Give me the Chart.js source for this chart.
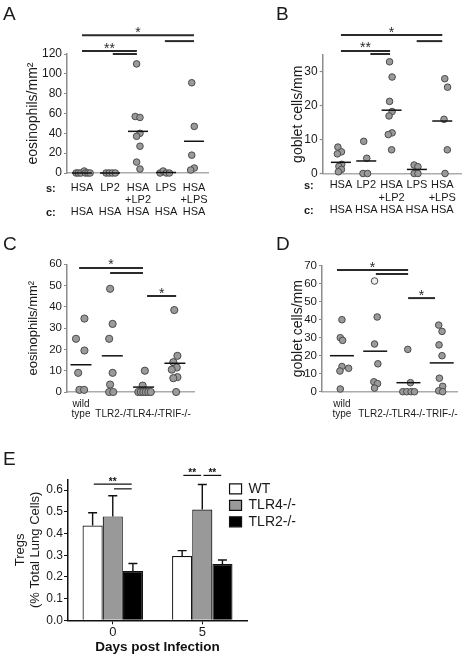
<!DOCTYPE html>
<html>
<head>
<meta charset="utf-8">
<script src="https://cdn.jsdelivr.net/npm/chart.js@4/dist/chart.umd.min.js"></script>
<style>
  body { margin: 0; background: #fff; }
  #fig { position: relative; width: 473px; height: 657px; font-family: 'Liberation Sans', Arial, sans-serif; color: #1a1a1a; }
  canvas { position: absolute; }
  .letter { position: absolute; font-size: 19px; line-height: 19px; }
  .rowlab { position: absolute; font-size: 11px; font-weight: bold; line-height: 12px; }
</style>
</head>
<body>
<div id="fig">
  <canvas id="chartA" width="236" height="220" style="left:0;top:0"></canvas>
  <canvas id="chartB" width="237" height="220" style="left:236px;top:0"></canvas>
  <canvas id="chartC" width="236" height="200" style="left:0;top:220px"></canvas>
  <canvas id="chartD" width="237" height="200" style="left:236px;top:220px"></canvas>
  <canvas id="chartE" width="473" height="237" style="left:0;top:420px"></canvas>
  <div class="letter" style="left:3px;top:4px">A</div>
  <div class="letter" style="left:276px;top:4px">B</div>
  <div class="letter" style="left:3px;top:234px">C</div>
  <div class="letter" style="left:276px;top:234px">D</div>
  <div class="letter" style="left:3px;top:449px">E</div>
  <div class="rowlab" style="left:46px;top:182px">s:</div>
  <div class="rowlab" style="left:46px;top:206px">c:</div>
  <div class="rowlab" style="left:304px;top:179px">s:</div>
  <div class="rowlab" style="left:304px;top:204px">c:</div>
</div>
<script>
const FONT = "'Liberation Sans', Arial, sans-serif";

// A + B: sensitization (s) / challenge (c) groups
const groupsAB = [['HSA', '', 'HSA'], ['LP2', '', 'HSA'], ['HSA', '+LP2', 'HSA'], ['LPS', '', 'HSA'], ['HSA', '+LPS', 'HSA']];

const eosA = [
  [0, 0, 0, 2, 0, 0, 0],
  [0, 0, 0, 0],
  [110, 57, 56, 40, 37, 27, 11, 4],
  [0, 2, 0, 0],
  [91, 47, 18, 5, 3]
];
const eosAJitter = [
  [-0.21, -0.13, -0.04, 0.08, 0.12, 0.21, 0.29],
  [-0.14, -0.03, 0.08, 0.19],
  [-0.05, -0.1, 0.07, 0.07, -0.05, 0.07, -0.05, 0.07],
  [-0.21, -0.1, 0.01, 0.12],
  [-0.08, 0.01, -0.08, 0.01, -0.12]
];
const eosAMeans = [0, 0, 42, 0.5, 32];

const gobB = [
  [7.8, 6.4, 5.8, 2.7, 2.1, 1.2, 0.5],
  [9.5, 4.5, 0, 0],
  [33, 28.5, 21.3, 18.3, 17, 12, 11.5, 7],
  [2.5, 2, 0, 0],
  [28, 25.5, 16, 7, 0]
];
const gobBJitter = [
  [-0.12, 0.02, -0.14, 0.03, -0.08, 0.02, -0.1],
  [-0.1, 0.02, -0.13, 0.05],
  [-0.08, 0.02, -0.08, 0.02, -0.1, 0.02, -0.13, 0],
  [-0.11, 0.04, -0.11, 0.04],
  [0.1, 0.21, 0.07, 0.2, 0.11]
];
const gobBMeans = [3.3, 3.7, 18.7, 1.2, 15.5];

// C + D: knockout strains
const strainsCD = [['wild', 'type'], ['', 'TLR2-/-'], ['', 'TLR4-/-'], ['', 'TRIF-/-']];

const eosC = [
  [34.5, 25, 19.5, 9, 1, 1],
  [48.5, 32, 25, 9, 3.5, 0, 0],
  [10, 3, 0, 0, 0, 0, 0, 0],
  [38.5, 17, 14, 11.5, 10.5, 7, 6.5, 0]
];
const eosCJitter = [
  [0.11, -0.16, 0.11, -0.09, -0.05, 0.1],
  [-0.07, 0.01, -0.1, 0.01, -0.07, -0.1, 0.03],
  [0.04, -0.03, -0.17, -0.09, -0.01, 0.07, 0.15, 0.23],
  [-0.02, 0.08, -0.05, 0.06, -0.1, 0.08, -0.05, 0.04]
];
const eosCMeans = [12.8, 17, 2.3, 13.5];

const gobD = [
  [40, 30, 28.5, 14, 13, 11.5, 1.5],
  [61.5, 41.5, 26.5, 15.5, 5.5, 4.5, 2],
  [23.5, 5, 0, 0, 0, 0],
  [37, 33.5, 26, 20, 7.5, 3, 0.5, 0]
];
const gobDJitter = [
  [0, -0.05, 0.02, 0, 0.2, -0.06, -0.05],
  [-0.02, 0.06, -0.02, 0.08, -0.04, 0.07, -0.02],
  [-0.02, 0.06, -0.17, -0.05, 0.08, 0.18],
  [-0.09, 0.01, -0.08, 0.01, -0.07, 0.03, -0.09, 0.03]
];
const gobDMeans = [20, 22.5, 5, 16];

// significance brackets, x in category units, y in data units
const sigA = [
  { from: 0, to: 4, y: 139, label: '*' },
  { from: 0, to: 1.96, y: 123, label: '**' },
  { from: 1.1, to: 1.96, y: 120 },
  { from: 2.96, to: 4, y: 133 }
];
const sigB = [
  { from: 0, to: 4, y: 40.9, label: '*' },
  { from: 0, to: 1.94, y: 36.2, label: '**' },
  { from: 1.16, to: 1.94, y: 35.3 },
  { from: 2.99, to: 4, y: 39.1 }
];
const sigC = [
  { from: -0.06, to: 1.98, y: 58.3, label: '*' },
  { from: 0.93, to: 1.98, y: 55.9 },
  { from: 2.11, to: 3.04, y: 45.1, label: '*' }
];
const sigD = [
  { from: -0.15, to: 1.99, y: 67.6, label: '*' },
  { from: 1.02, to: 1.99, y: 65.4 },
  { from: 1.99, to: 2.8, y: 52, label: '*' }
];

// E: Tregs bar chart
const daysE = ['0', '5'];
const tregWT = [0.437, 0.296];
const tregTLR4 = [0.479, 0.511];
const tregTLR2 = [0.227, 0.259];
const tregWTErr = [0.059, 0.025];
const tregTLR4Err = [0.095, 0.115];
const tregTLR2Err = [0.035, 0.019];
const tregTicks = [0, 0.1, 0.2, 0.3, 0.4, 0.5, 0.6];
// bracket ends given as [dataset, day]
const sigE = [
  { from: [0, 0], to: [2, 0], y: 0.628, label: '**' },
  { from: [1, 0], to: [2, 0], y: 0.606 },
  { from: [0, 1], to: [1, 1], y: 0.668, label: '**' },
  { from: [1, 1], to: [2, 1], y: 0.668, label: '**' }
];

function sigPlugin(bars, style) {
  return {
    id: 'sigBrackets',
    afterDraw(chart) {
      const ctx = chart.ctx;
      const xs = chart.scales.x, ys = chart.scales.y;
      const xAt = v => Array.isArray(v) ? chart.getDatasetMeta(v[0]).data[v[1]].x : xs.getPixelForValue(v);
      ctx.save();
      ctx.strokeStyle = style.color;
      ctx.fillStyle = style.color;
      ctx.lineWidth = style.lineWidth;
      ctx.font = style.font;
      ctx.textAlign = 'center';
      ctx.textBaseline = 'alphabetic';
      bars.forEach(b => {
        const x1 = xAt(b.from) + style.inset, x2 = xAt(b.to) - style.inset;
        const y = ys.getPixelForValue(b.y);
        ctx.beginPath();
        ctx.moveTo(x1, y);
        ctx.lineTo(x2, y);
        ctx.stroke();
        if (b.label) ctx.fillText(b.label, (x1 + x2) / 2, y + style.textShift);
      });
      ctx.restore();
    }
  };
}

function errorBarPlugin(errs) {
  return {
    id: 'errorBars',
    afterDatasetsDraw(chart) {
      const ctx = chart.ctx, ys = chart.scales.y;
      ctx.save();
      ctx.strokeStyle = '#111';
      ctx.lineWidth = 1.4;
      chart.data.datasets.forEach((ds, d) => {
        chart.getDatasetMeta(d).data.forEach((bar, i) => {
          const top = ys.getPixelForValue(ds.data[i] + errs[d][i]);
          ctx.beginPath();
          ctx.moveTo(bar.x, bar.y);
          ctx.lineTo(bar.x, top);
          ctx.moveTo(bar.x - 4.5, top);
          ctx.lineTo(bar.x + 4.5, top);
          ctx.stroke();
        });
      });
      ctx.restore();
    }
  };
}

// pull the legend in so its boxes start just left of the x axis end, as in the figure
const legendNudge = {
  id: 'legendNudge',
  afterLayout(chart) {
    const lg = chart.legend;
    if (!lg) return;
    const dx = lg.left - (chart.chartArea.right - 20);
    lg.left -= dx;
    lg.right -= dx;
    (lg.legendHitBoxes || []).forEach(h => { h.left -= dx; });
  }
};

function dotChart(canvasId, p) {
  const points = [];
  p.values.forEach((group, i) => {
    group.forEach((v, k) => points.push({ x: i + p.jitter[i][k], y: v }));
  });
  const means = p.means.map((m, i) => ({ x: i, y: m }));
  const openDot = p.openDot ? p.values.slice(0, p.openDot[0]).reduce((n, g) => n + g.length, 0) + p.openDot[1] : -1;

  return new Chart(document.getElementById(canvasId), {
    type: 'scatter',
    data: {
      datasets: [
        { data: means, pointStyle: 'line', pointRadius: p.meanHalf, borderColor: '#111', borderWidth: 1.5, clip: false },
        {
          data: points, pointRadius: p.dotRadius, borderWidth: 1, borderColor: '#4a4a4a', clip: false,
          backgroundColor: ctx => ctx.dataIndex === openDot ? '#eeeeee' : '#9a9a9a'
        }
      ]
    },
    options: {
      responsive: false,
      animation: false,
      events: [],
      layout: { padding: p.pad },
      plugins: { legend: { display: false }, tooltip: { enabled: false } },
      scales: {
        x: {
          type: 'linear', min: p.xMin, max: p.xMax, bounds: 'data',
          afterBuildTicks: s => { s.ticks = p.categories.map((c, i) => ({ value: i })); },
          afterFit: s => { s.height = p.xHeight; },
          grid: { display: false, drawTicks: false },
          border: { color: '#ababab', width: 1.5 },
          ticks: {
            callback: v => p.categories[v], autoSkip: false, maxRotation: 0, padding: p.xPad, color: '#1a1a1a',
            font: { family: FONT, size: p.catSize, lineHeight: p.catLine + 'px' }
          }
        },
        y: {
          min: 0, max: p.yMax,
          afterFit: s => { s.width = p.yWidth; },
          ticks: { stepSize: p.yStep, padding: 2, color: '#1a1a1a', font: { family: FONT, size: p.tickSize } },
          grid: { drawOnChartArea: false, tickLength: 3, color: '#8c8c8c', tickWidth: 1.2 },
          border: { color: '#8c8c8c', width: 1.5 },
          title: {
            display: true, text: p.yTitle, color: '#1a1a1a',
            font: { family: FONT, size: p.titleSize }, padding: { top: p.titlePad, bottom: 0 }
          }
        }
      }
    },
    plugins: [sigPlugin(p.sig, p.sigStyle)]
  });
}

const bigStars = { color: '#2a2a2a', lineWidth: 2, font: '14px ' + FONT, textShift: 1.5, inset: 0 };

dotChart('chartA', {
  categories: groupsAB, values: eosA, jitter: eosAJitter, means: eosAMeans, sig: sigA, sigStyle: bigStars,
  yMax: 120, yStep: 20, yTitle: 'eosinophils/mm²', titleSize: 14, titlePad: 24.6, tickSize: 12,
  xMin: -0.536, xMax: 4.5, pad: { top: 54, right: 28, bottom: 0, left: 0 }, yWidth: 67, xHeight: 47,
  xPad: 9, catSize: 11, catLine: 12, dotRadius: 3.3, meanHalf: 10
});

dotChart('chartB', {
  categories: groupsAB, values: gobB, jitter: gobBJitter, means: gobBMeans, sig: sigB, sigStyle: bigStars,
  yMax: 35, yStep: 5, yTitle: 'goblet cells/mm', titleSize: 14, titlePad: 53.3, tickSize: 12,
  xMin: -0.72, xMax: 4.76, pad: { top: 55, right: 3.7, bottom: 0, left: 0 }, yWidth: 86.7, xHeight: 46.5,
  xPad: 5.5, catSize: 11, catLine: 12.5, dotRadius: 3.3, meanHalf: 10
});

dotChart('chartC', {
  categories: strainsCD, values: eosC, jitter: eosCJitter, means: eosCMeans, sig: sigC, sigStyle: bigStars,
  yMax: 60, yStep: 10, yTitle: 'eosinophils/mm²', titleSize: 13, titlePad: 25.2, tickSize: 11.5,
  xMin: -0.447, xMax: 3.61, pad: { top: 44.3, right: 42, bottom: 0, left: 0 }, yWidth: 67, xHeight: 28,
  xPad: 7, catSize: 10, catLine: 10, dotRadius: 3.6, meanHalf: 10.5
});

dotChart('chartD', {
  categories: strainsCD, values: gobD, jitter: gobDJitter, means: gobDMeans, sig: sigD, sigStyle: bigStars,
  yMax: 70, yStep: 10, yTitle: 'goblet cells/mm', titleSize: 14, titlePad: 53.3, tickSize: 11.5,
  xMin: -0.6, xMax: 3.46, pad: { top: 45.7, right: 16, bottom: 0, left: 0 }, yWidth: 86, xHeight: 28.3,
  xPad: 7.6, catSize: 10, catLine: 10, dotRadius: 3.3, meanHalf: 12, openDot: [1, 0]
});

new Chart(document.getElementById('chartE'), {
  type: 'bar',
  data: {
    labels: daysE,
    datasets: [
      { label: 'WT', data: tregWT, backgroundColor: '#ffffff', borderColor: '#111', borderWidth: 1.2 },
      { label: 'TLR4-/-', data: tregTLR4, backgroundColor: '#999999', borderColor: '#111', borderWidth: 1.2 },
      { label: 'TLR2-/-', data: tregTLR2, backgroundColor: '#000000', borderColor: '#111', borderWidth: 1.2 }
    ]
  },
  options: {
    responsive: false,
    animation: false,
    events: [],
    layout: { padding: { top: 59.3, right: 147, bottom: 0, left: 0 } },
    datasets: { bar: { categoryPercentage: 0.675, barPercentage: 1 } },
    plugins: {
      tooltip: { enabled: false },
      legend: {
        position: 'right', align: 'start',
        labels: { boxWidth: 12, boxHeight: 10, padding: 2.5, color: '#1a1a1a', font: { family: FONT, size: 14 } }
      }
    },
    scales: {
      x: {
        afterFit: s => { s.height = 36.7; },
        grid: { drawOnChartArea: false, offset: false, tickLength: 4, color: '#111' },
        border: { color: '#111', width: 1.5 },
        ticks: { padding: 0, color: '#1a1a1a', font: { family: FONT, size: 13 } },
        title: {
          display: true, text: 'Days post Infection', color: '#111',
          font: { family: FONT, size: 13.5, weight: 'bold' }, padding: { top: 0, bottom: 2 }
        }
      },
      y: {
        min: 0, max: 0.65,
        afterBuildTicks: s => { s.ticks = tregTicks.map(v => ({ value: v })); },
        afterFit: s => { s.width = 68; },
        grid: { drawOnChartArea: false, tickLength: 4, color: '#111' },
        border: { color: '#111', width: 1.5 },
        ticks: { callback: v => v.toFixed(1), padding: 1, color: '#1a1a1a', font: { family: FONT, size: 12 } },
        title: {
          display: true, text: ['Tregs', '(% Total Lung Cells)'], color: '#1a1a1a',
          font: { family: FONT, size: 13, lineHeight: '15px' }, padding: { top: 12.5, bottom: 0 }
        }
      }
    }
  },
  plugins: [
    legendNudge,
    errorBarPlugin([tregWTErr, tregTLR4Err, tregTLR2Err]),
    sigPlugin(sigE, { color: '#111', lineWidth: 1.2, font: 'bold 10px ' + FONT, textShift: 1, inset: 1.2 })
  ]
});
</script>
</body>
</html>
